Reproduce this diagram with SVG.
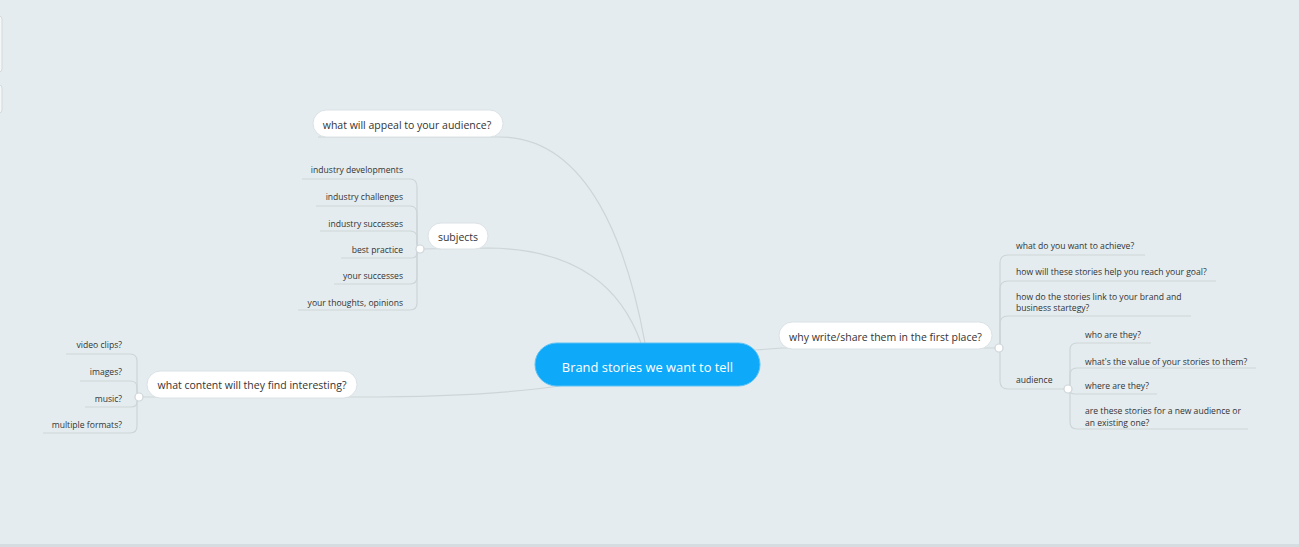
<svg xmlns="http://www.w3.org/2000/svg" width="1299" height="547" viewBox="0 0 1299 547">
<style>
.bg{fill:#e4ecef}
.ln{fill:none;stroke:#cdd5d8;stroke-width:1.2}
.pill{fill:#ffffff;stroke:#dbe2e5;stroke-width:1}
.dot{fill:#ffffff;stroke:#cdd5d8;stroke-width:1.2}
.t1{font-family:"Open Sans","Noto Sans",sans-serif;font-size:10.5px;fill:#333}
.t2{font-family:"Open Sans","Noto Sans",sans-serif;font-size:8.6px;fill:#333}
.tc{font-family:"Open Sans","Noto Sans",sans-serif;font-size:12.9px;fill:#ffffff}
</style>
<rect class="bg" x="0" y="0" width="1299" height="547"/>
<rect x="0" y="544" width="1299" height="3" fill="#d5dde0"/>
<rect x="-8" y="16" width="10" height="56" rx="3" fill="#f4f7f8" stroke="#d3dadd"/>
<rect x="-8" y="85" width="10" height="28" rx="3" fill="#f4f7f8" stroke="#d3dadd"/>

<g id="connectors">
  <!-- main branches -->
  <path class="ln" d="M318,137 L500,137 C590,137 628,250 645,343"/>
  <path class="ln" d="M420,249 L488,248 C580,249 622,290 641,343"/>
  <path class="ln" d="M139,397 L357,397 C450,397 515,393 565,385"/>
  <path class="ln" d="M755,350 L782,348 L999,348"/>
  <!-- subjects children -->
  <path class="ln" d="M302,179 L410,179 Q417,179 417,187 L417,243 Q417,249 420,249"/>
  <path class="ln" d="M316,206 L410,206 Q417,206 417,214 L417,243 Q417,249 420,249"/>
  <path class="ln" d="M320,231 L410,231 Q417,231 417,238 L417,243 Q417,249 420,249"/>
  <path class="ln" d="M341,258 L411,258 Q417,258 417,253 Q417,249 420,249"/>
  <path class="ln" d="M334,284 L410,284 Q417,284 417,277 L417,255 Q417,249 420,249"/>
  <path class="ln" d="M298,310 L410,310 Q417,310 417,303 L417,255 Q417,249 420,249"/>
  <!-- content children -->
  <path class="ln" d="M66,354 L130,354 Q137,354 137,361 L137,391 Q137,397 139,397"/>
  <path class="ln" d="M80,381 L130,381 Q137,381 137,387 L137,391 Q137,397 139,397"/>
  <path class="ln" d="M85,407 L131,407 Q137,407 137,402 Q137,397 139,397"/>
  <path class="ln" d="M43,433 L130,433 Q137,433 137,426 L137,403 Q137,397 139,397"/>
  <!-- why children -->
  <path class="ln" d="M1145,255 L1008,255 Q1000,255 1000,263 L1000,340 Q1000,348 999,348"/>
  <path class="ln" d="M1216,281 L1008,281 Q1000,281 1000,289 L1000,340 Q1000,348 999,348"/>
  <path class="ln" d="M1191,316 L1008,316 Q1000,316 1000,324 L1000,340 Q1000,348 999,348"/>
  <path class="ln" d="M1068,389 L1008,389 Q1000,389 1000,381 L1000,356 Q1000,348 999,348"/>
  <!-- audience children -->
  <path class="ln" d="M1151,343 L1077,343 Q1070,343 1070,350 L1070,382 Q1070,389 1068,389"/>
  <path class="ln" d="M1256,368 L1077,368 Q1070,368 1070,375 L1070,382 Q1070,389 1068,389"/>
  <path class="ln" d="M1157,394 L1075,394 Q1070,394 1070,391 Q1070,389 1068,389"/>
  <path class="ln" d="M1248,429 L1077,429 Q1070,429 1070,422 L1070,396 Q1070,389 1068,389"/>
</g>

<g id="central">
  <rect x="535" y="343" width="225" height="43" rx="21.5" fill="#0fa9f9" stroke="#5cc2f5" stroke-width="1"/>
  <text class="tc" x="647.5" y="371.5" text-anchor="middle">Brand stories we want to tell</text>
</g>

<g id="appeal">
  <rect class="pill" x="313" y="110" width="190" height="27" rx="13.5"/>
  <text class="t1" x="407" y="128.5" text-anchor="middle">what will appeal to your audience?</text>
</g>

<g id="subjects">
  <rect class="pill" x="428" y="223" width="60" height="26" rx="13"/>
  <text class="t1" x="458" y="240.5" text-anchor="middle">subjects</text>
  <circle class="dot" cx="420" cy="249" r="4"/>
</g>
<g id="subjects-children">
  <text class="t2" x="403" y="173" text-anchor="end">industry developments</text>
  <text class="t2" x="403" y="200" text-anchor="end">industry challenges</text>
  <text class="t2" x="403" y="226.5" text-anchor="end">industry successes</text>
  <text class="t2" x="403" y="253" text-anchor="end">best practice</text>
  <text class="t2" x="403" y="279" text-anchor="end">your successes</text>
  <text class="t2" x="403" y="305.5" text-anchor="end">your thoughts, opinions</text>
</g>

<g id="content">
  <rect class="pill" x="147" y="371" width="210" height="27" rx="13.5"/>
  <text class="t1" x="252" y="389" text-anchor="middle">what content will they find interesting?</text>
  <circle class="dot" cx="139" cy="397" r="4"/>
</g>
<g id="content-children">
  <text class="t2" x="122" y="348" text-anchor="end">video clips?</text>
  <text class="t2" x="122" y="375" text-anchor="end">images?</text>
  <text class="t2" x="122" y="401.5" text-anchor="end">music?</text>
  <text class="t2" x="122" y="427.5" text-anchor="end">multiple formats?</text>
</g>

<g id="why">
  <rect class="pill" x="779" y="322" width="213" height="27" rx="13.5"/>
  <text class="t1" x="885.5" y="340.5" text-anchor="middle">why write/share them in the first place?</text>
  <circle class="dot" cx="999" cy="348" r="4"/>
</g>
<g id="why-children">
  <text class="t2" x="1016" y="248.5">what do you want to achieve?</text>
  <text class="t2" x="1016" y="275">how will these stories help you reach your goal?</text>
  <text class="t2" x="1016" y="299.5">how do the stories link to your brand and</text>
  <text class="t2" x="1016" y="310.5">business startegy?</text>
</g>
<g id="audience">
  <text class="t2" x="1016" y="383">audience</text>
  <circle class="dot" cx="1068" cy="389" r="4"/>
</g>
<g id="audience-children">
  <text class="t2" x="1085" y="338">who are they?</text>
  <text class="t2" x="1085" y="364.5">what's the value of your stories to them?</text>
  <text class="t2" x="1085" y="389">where are they?</text>
  <text class="t2" x="1085" y="414">are these stories for a new audience or</text>
  <text class="t2" x="1085" y="425.5">an existing one?</text>
</g>
</svg>
